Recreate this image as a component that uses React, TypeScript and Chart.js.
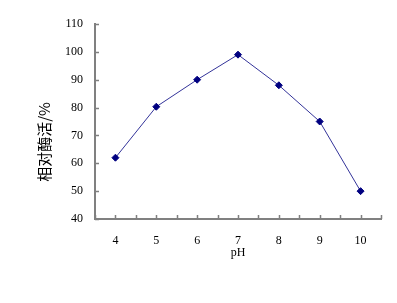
import React, { useEffect, useRef } from "react";
import { Chart, registerables } from "chart.js";

Chart.register(...registerables);

const phLabels = ["4", "5", "6", "7", "8", "9", "10"];
const activity = [62, 80.3, 90, 99, 88, 75, 50];
const yMin = 40;
const yMax = 110;
const yStep = 10;
const yTitle = "相对酶活/%";
const xTitle = "pH";

const axisColor = "#808080";
const lineColor = "#333399";
const markerColor = "#000080";

const innerTicks = {
  id: "innerTicks",
  afterDraw(chart: any) {
    const ctx = chart.ctx;
    const y = chart.scales.y;
    const area = chart.chartArea;
    ctx.save();
    ctx.strokeStyle = axisColor;
    ctx.lineWidth = 1.5;
    ctx.beginPath();
    y.ticks.forEach((t: any) => {
      const py = Math.round(y.getPixelForValue(t.value)) + 0.5;
      ctx.moveTo(area.left, py);
      ctx.lineTo(area.left + 4, py);
    });
    const n = phLabels.length;
    const w = (area.right - area.left) / n;
    for (let i = 0; i <= 2 * n; i++) {
      const px = Math.round(area.left + (i * w) / 2) + 0.5;
      ctx.moveTo(px, area.bottom);
      ctx.lineTo(px, area.bottom - 4);
    }
    ctx.stroke();
    ctx.fillStyle = "#000";
    ctx.font = '15px "Noto Sans CJK SC", sans-serif';
    ctx.textAlign = "center";
    ctx.textBaseline = "middle";
    ctx.translate(44, 142);
    ctx.rotate(-Math.PI / 2);
    ctx.fillText(yTitle, 0, 0);
    ctx.restore();
  },
};

export default function App() {
  const ref = useRef<HTMLCanvasElement>(null);
  useEffect(() => {
    if (!ref.current) return;
    const chart = new Chart(ref.current, {
      type: "line",
      data: {
        labels: phLabels,
        datasets: [
          {
            data: activity,
            borderColor: lineColor,
            borderWidth: 1,
            backgroundColor: markerColor,
            pointBackgroundColor: markerColor,
            pointBorderColor: markerColor,
            pointStyle: "rectRot",
            pointRadius: 3.5,
            tension: 0,
          },
        ],
      },
      options: {
        animation: false,
        responsive: false,
        layout: { padding: { left: 0, top: 24, right: 16, bottom: 0 } },
        plugins: { legend: { display: false }, tooltip: { enabled: false } },
        scales: {
          x: {
            type: "category",
            offset: true,
            grid: { display: false, drawTicks: false },
            border: { display: true, color: axisColor, width: 2 },
            ticks: {
              padding: 15,
              color: "#000",
              font: { family: '"Liberation Serif", serif', size: 12 },
            },
            title: {
              display: true,
              text: xTitle,
              color: "#000",
              font: { family: '"Liberation Serif", serif', size: 12 },
              padding: { top: 0, bottom: 43 },
            },
            afterFit: (s: any) => {
              s.height = 84;
            },
          },
          y: {
            min: yMin,
            max: yMax,
            grid: { display: false, drawTicks: false },
            border: { display: true, color: axisColor, width: 2 },
            ticks: {
              stepSize: yStep,
              padding: 12,
              color: "#000",
              font: { family: '"Liberation Serif", serif', size: 12 },
            },
            afterFit: (s: any) => {
              s.width = 95;
            },
          },
        },
      },
      plugins: [innerTicks],
    });
    return () => chart.destroy();
  }, []);
  return (
    <div style={{ position: "absolute", left: 0, top: 0, width: 397, height: 303, background: "#fff" }}>
      <canvas ref={ref} width={397} height={303} />
    </div>
  );
}
